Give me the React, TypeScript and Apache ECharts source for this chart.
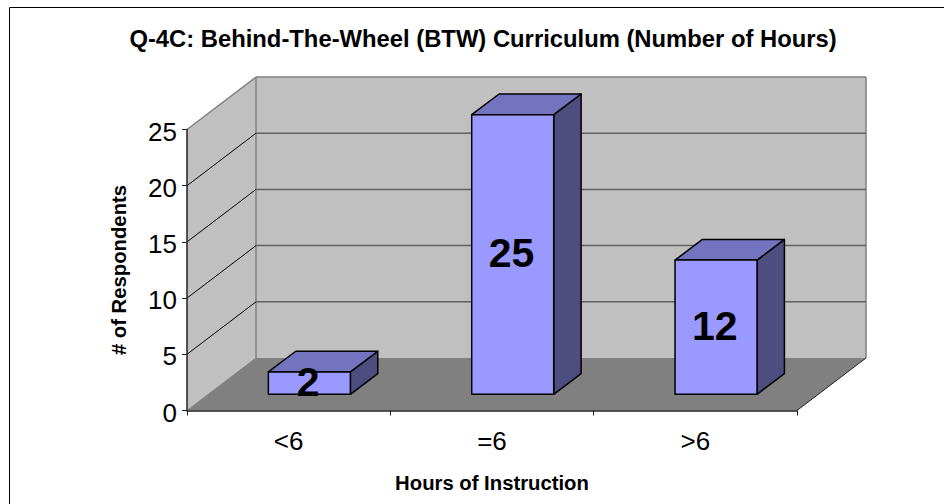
import React, { useEffect, useRef } from "react";
import * as echarts from "echarts";

const titleText = "Q-4C: Behind-The-Wheel (BTW) Curriculum (Number of Hours)";
const xAxisName = "Hours of Instruction";
const yAxisName = "# of Respondents";
const categories = ["<6", "=6", ">6"];
const respondents = [2, 25, 12];
const gridTicks = [5, 10, 15, 20, 25];
const FONT = "'Liberation Sans', Arial, sans-serif";

// Oblique projection of the 3D look, in pixels
const WALL_DX = 69;
const WALL_DY = -52.5;
const BAR_OFF_X = 20.7;
const BAR_OFF_Y = -16.2;
const BAR_W = 82;
const BAR_DX = 27.4;
const BAR_DY = -20.7;
const BAR_SCALE = 0.995;

const renderBackdrop = (params: any) => {
  const c = params.coordSys;
  const L = c.x, R = c.x + c.width, T = c.y, B = c.y + c.height;
  const wall = { fill: "#c0c0c0", stroke: "none" };
  return {
    type: "group",
    children: [
      { type: "polygon", shape: { points: [[L + WALL_DX, T + WALL_DY], [R + WALL_DX, T + WALL_DY], [R + WALL_DX, B + WALL_DY], [L + WALL_DX, B + WALL_DY]] }, style: wall },
      { type: "polygon", shape: { points: [[L, T], [L + WALL_DX, T + WALL_DY], [L + WALL_DX, B + WALL_DY], [L, B]] }, style: wall },
      { type: "polygon", shape: { points: [[L, B], [R, B], [R + WALL_DX, B + WALL_DY], [L + WALL_DX, B + WALL_DY]] }, style: { fill: "#808080", stroke: "none" } },
      { type: "line", shape: { x1: L, y1: T, x2: L + WALL_DX, y2: T + WALL_DY }, style: { stroke: "#808080", lineWidth: 1.5 } },
      { type: "line", shape: { x1: L + WALL_DX, y1: T + WALL_DY, x2: L + WALL_DX, y2: B + WALL_DY }, style: { stroke: "#808080", lineWidth: 1.5 } },
      { type: "line", shape: { x1: R + WALL_DX, y1: T + WALL_DY, x2: R + WALL_DX, y2: B + WALL_DY }, style: { stroke: "#808080", lineWidth: 1.5 } },
      { type: "line", shape: { x1: L + WALL_DX, y1: T + WALL_DY, x2: R + WALL_DX, y2: T + WALL_DY }, style: { stroke: "#808080", lineWidth: 1.5 } },
      { type: "line", shape: { x1: R, y1: B, x2: R + WALL_DX, y2: B + WALL_DY }, style: { stroke: "#222222", lineWidth: 1 } },
      { type: "line", shape: { x1: L, y1: B, x2: L + WALL_DX, y2: B + WALL_DY }, style: { stroke: "#808080", lineWidth: 1 } },
    ],
  };
};

const renderGridLine = (params: any, api: any) => {
  const c = params.coordSys;
  const y = api.coord([0, api.value(1)])[1];
  const L = c.x, R = c.x + c.width;
  const isTop = api.value(1) === 25;
  return {
    type: "group",
    children: isTop ? [] : [
      { type: "line", shape: { x1: L, y1: y, x2: L + WALL_DX, y2: y + WALL_DY }, style: { stroke: "#000000", lineWidth: 1 } },
      { type: "line", shape: { x1: L + WALL_DX, y1: y + WALL_DY, x2: R + WALL_DX, y2: y + WALL_DY }, style: { stroke: "#606060", lineWidth: 1.5 } },
    ],
  };
};

const renderBar = (_params: any, api: any) => {
  const [cx, top0] = api.coord([api.value(0), api.value(1)]);
  const [, bot0] = api.coord([api.value(0), 0]);
  const x0 = cx + BAR_OFF_X - BAR_W / 2;
  const x1 = x0 + BAR_W;
  const bot = bot0 + BAR_OFF_Y;
  const top = bot - (bot0 - top0) * BAR_SCALE;
  const edge = { stroke: "#000000", lineWidth: 1.5, lineJoin: "round" };
  return {
    type: "group",
    children: [
      { type: "polygon", shape: { points: [[x1, top], [x1 + BAR_DX, top + BAR_DY], [x1 + BAR_DX, bot + BAR_DY], [x1, bot]] }, style: { fill: "#4d4d80", ...edge } },
      { type: "polygon", shape: { points: [[x0, top], [x0 + BAR_DX, top + BAR_DY], [x1 + BAR_DX, top + BAR_DY], [x1, top]] }, style: { fill: "#7373bf", ...edge } },
      { type: "rect", shape: { x: x0, y: top, width: BAR_W, height: bot - top }, style: { fill: "#9999ff", ...edge } },
      { type: "text", x: (x0 + x1) / 2 - 1.2, y: (top + bot) / 2 - 1.5, style: { text: String(api.value(1)), fill: "#000000", font: `bold 41px ${FONT}`, align: "center", verticalAlign: "middle" } },
    ],
  };
};

export default function App() {
  const ref = useRef<HTMLDivElement>(null);
  useEffect(() => {
    const chart = echarts.init(ref.current!, null, { renderer: "svg" });
    chart.setOption({
      animation: false,
      backgroundColor: "#ffffff",
      title: {
        text: titleText, left: 478, top: 21, textAlign: "center",
        textStyle: { fontFamily: FONT, fontSize: 23.8, fontWeight: "bold", color: "#000000" },
      },
      grid: { left: 187, right: 147, top: 129.5, height: 281 },
      xAxis: {
        type: "category", data: categories, z: 10,
        name: xAxisName, nameLocation: "center", nameGap: 62,
        nameTextStyle: { fontFamily: FONT, fontSize: 20.3, fontWeight: "bold", color: "#000000" },
        axisLine: { show: true, lineStyle: { color: "#222222", width: 1.5 } },
        axisTick: { show: true, length: 5, lineStyle: { color: "#222222" } },
        axisLabel: { fontFamily: FONT, fontSize: 26, color: "#000000", margin: 17 },
        splitLine: { show: false },
      },
      yAxis: {
        type: "value", min: 0, max: 25, interval: 5, z: 10,
        name: yAxisName, nameLocation: "center", nameGap: 58,
        nameTextStyle: { fontFamily: FONT, fontSize: 20.3, fontWeight: "bold", color: "#000000" },
        axisLine: { show: true, lineStyle: { color: "#222222", width: 1.5 } },
        axisTick: { show: true, length: 5, lineStyle: { color: "#222222" } },
        axisLabel: { fontFamily: FONT, fontSize: 26, color: "#000000", margin: 10, formatter: (v: number) => `{t|${v}}`, rich: { t: { fontFamily: FONT, fontSize: 26, color: "#000000", padding: [4, 0, 0, 0] } } },
        splitLine: { show: false },
      },
      series: [
        { type: "custom", z: 1, silent: true, renderItem: renderBackdrop, data: [[0, 0]], encode: { x: 0, y: 1 } },
        { type: "custom", z: 2, silent: true, renderItem: renderGridLine, data: gridTicks.map((t) => [0, t]), encode: { x: 0, y: 1 } },
        { type: "custom", z: 3, renderItem: renderBar, data: respondents.map((v, i) => [i, v]), encode: { x: 0, y: 1 } },
      ],
      graphic: [
        { type: "polyline", silent: true, shape: { points: [[9.5, 504], [9.5, 7.5], [944, 7.5]] }, style: { stroke: "#000000", lineWidth: 1, fill: "none" } },
      ],
    });
    return () => chart.dispose();
  }, []);
  return <div ref={ref} style={{ position: "fixed", left: 0, top: 0, width: 944, height: 504 }} />;
}
